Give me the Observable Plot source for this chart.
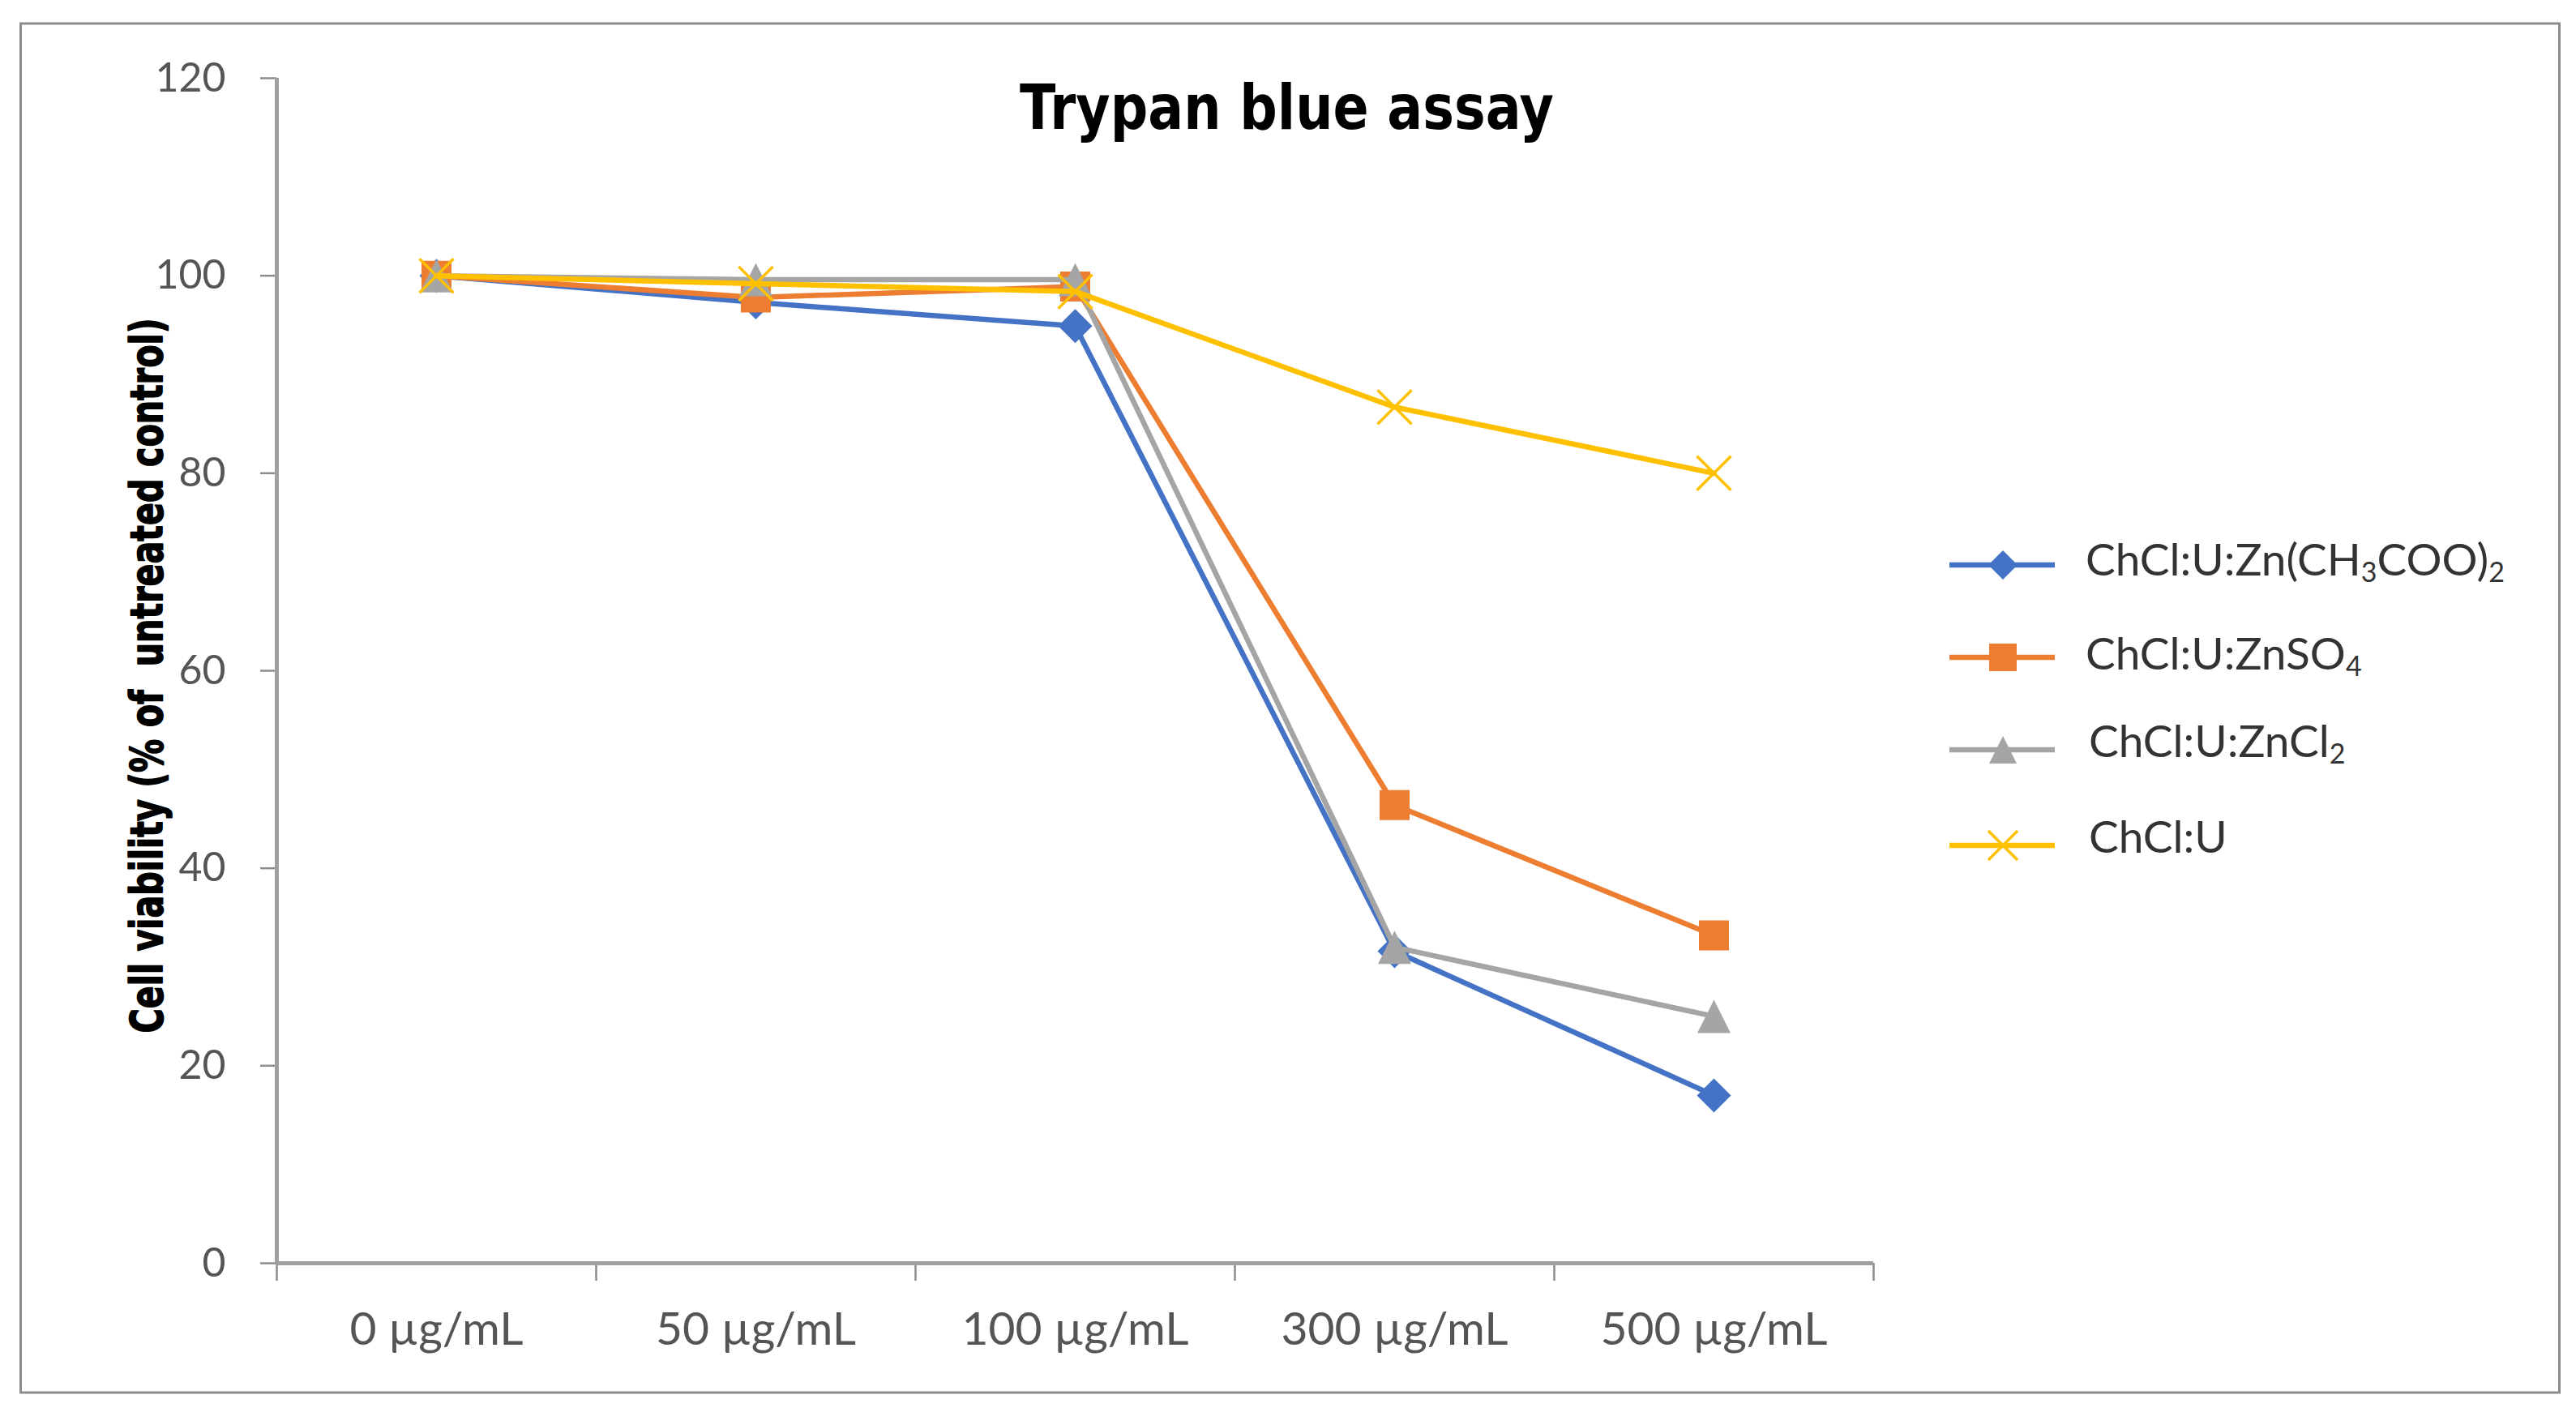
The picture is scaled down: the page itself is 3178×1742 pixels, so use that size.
<!DOCTYPE html>
<html>
<head>
<meta charset="utf-8">
<script src="https://cdn.jsdelivr.net/npm/d3@7"></script>
<script src="https://cdn.jsdelivr.net/npm/@observablehq/plot@0.6"></script>
<style>
  html, body { margin: 0; padding: 0; background: #fff; }
  #chart { position: relative; width: 3178px; height: 1742px; overflow: hidden; }
</style>
</head>
<body>
<div id="chart"></div>
<script>
// ---------- data ----------
const categories = ["0 µg/mL", "50 µg/mL", "100 µg/mL", "300 µg/mL", "500 µg/mL"];
const seriesNames = ["ChCl:U:Zn(CH3COO)2", "ChCl:U:ZnSO4", "ChCl:U:ZnCl2", "ChCl:U"];
const znAcetate  = [100, 97.3, 94.9, 31.6, 17.0];
const znSulfate  = [100, 97.8, 98.9, 46.4, 33.2];
const znChloride = [100, 99.6, 99.6, 32.0, 25.0];
const chclU      = [100, 99.2, 98.4, 86.7, 80.0];
const yTicks = [0, 20, 40, 60, 80, 100, 120];
const titleText = "Trypan blue assay";
const yLabelText = "Cell viability (% of  untreated control)";

// ---------- symbols ----------
const rOf = size => Math.sqrt(size / Math.PI);
const diamond = { draw(ctx, size) { const r = rOf(size); ctx.moveTo(0, -r); ctx.lineTo(r, 0); ctx.lineTo(0, r); ctx.lineTo(-r, 0); ctx.closePath(); } };
const square = { draw(ctx, size) { const r = rOf(size); ctx.rect(-r, -r, 2 * r, 2 * r); } };
const triangle = { draw(ctx, size) { const r = rOf(size); ctx.moveTo(0, -r); ctx.lineTo(r, r); ctx.lineTo(-r, r); ctx.closePath(); } };
const cross = { draw(ctx, size) { const r = rOf(size); ctx.moveTo(-r, -r); ctx.lineTo(r, r); ctx.moveTo(-r, r); ctx.lineTo(r, -r); } };

// ---------- styles ----------
const seriesValues = [znAcetate, znSulfate, znChloride, chclU];
const seriesStyle = [
  { color: "#4472C4", symbol: diamond, r: 21, legendR: 18, stroked: false },
  { color: "#ED7D31", symbol: square, r: 18.5, legendR: 17, stroked: false },
  { color: "#A5A5A5", symbol: triangle, r: 20.5, legendR: 17, stroked: false },
  { color: "#FFC000", symbol: cross, r: 21, legendR: 18, stroked: true }
];

const rows = seriesNames.flatMap((name, si) =>
  seriesValues[si].map((v, i) => ({ series: name, si, x: i, y: v }))
);

const seriesMarks = seriesNames.flatMap((name, si) => {
  const st = seriesStyle[si];
  const data = rows.filter(d => d.si === si);
  return [
    Plot.line(data, { x: "x", y: "y", stroke: st.color, strokeWidth: 6.5, strokeLinejoin: "round", strokeLinecap: "round" }),
    Plot.dot(data, st.stroked
      ? { x: "x", y: "y", symbol: st.symbol, r: st.r, fill: "none", stroke: st.color, strokeWidth: 3.5 }
      : { x: "x", y: "y", symbol: st.symbol, r: st.r, fill: st.color, stroke: "none" })
  ];
});

const boundaries = d3.range(-0.5, categories.length, 1);

const plot = Plot.plot({
  width: 3178,
  height: 1742,
  marginLeft: 341,
  marginRight: 867,
  marginTop: 96,
  marginBottom: 184,
  x: { domain: [-0.5, categories.length - 0.5], axis: null },
  y: { domain: [0, 120], axis: null },
  style: { fontFamily: "Lato, sans-serif", background: "white", overflow: "visible" },
  marks: [
    Plot.axisY({ ticks: yTicks, tickSize: 20, tickPadding: 43, fontSize: 50, fill: "#555", stroke: "#8c8c8c", strokeWidth: 2.5, label: null, tickFormat: d => String(d) }),
    Plot.axisX({ ticks: d3.range(categories.length), tickSize: 0, tickPadding: 60, fontSize: 57, fill: "#555", label: null, tickFormat: i => categories[i] }),
    Plot.axisX({ ticks: boundaries, tickSize: 22, stroke: "#8c8c8c", strokeWidth: 2.5, label: null, tickFormat: () => "" }),
    Plot.ruleX([-0.5], { stroke: "#a0a0a0", strokeWidth: 5 }),
    Plot.ruleY([0], { stroke: "#a0a0a0", strokeWidth: 5 }),
    ...seriesMarks,
    Plot.text([titleText], { text: d => d, frameAnchor: "top", textAnchor: "middle", lineAnchor: "top", dx: 261, dy: 8, fontSize: 77, fontWeight: "bold", fontFamily: "DejaVu Sans", fill: "#000" }),
    Plot.text([yLabelText], { text: d => d, frameAnchor: "left", textAnchor: "middle", lineAnchor: "top", rotate: -90, dx: -181, dy: 6, fontSize: 55, fontWeight: "bold", fontFamily: "DejaVu Sans", fill: "#000", stroke: "#000", strokeWidth: 1.6 })
  ]
});

const svg = d3.select(plot);
svg.selectAll("text").filter(function () { return this.textContent === titleText; })
  .attr("textLength", 659).attr("lengthAdjust", "spacingAndGlyphs");
svg.selectAll("text").filter(function () { return this.textContent === yLabelText; })
  .attr("textLength", 882).attr("lengthAdjust", "spacingAndGlyphs").style("white-space", "pre");

// outer border
svg.insert("rect", ":first-child")
  .attr("x", 25.5).attr("y", 29).attr("width", 3132).attr("height", 1689)
  .attr("fill", "white").attr("stroke", "#8c8c8c").attr("stroke-width", 3);

// legend
const legendRowY = [697, 811, 925, 1043];
const legendTextY = [710, 826, 934, 1052];
const legendTextX = [2573, 2573, 2577, 2577];
const lg = svg.append("g").attr("font-family", "Lato, sans-serif").attr("text-anchor", "start");
seriesNames.forEach((name, i) => {
  const st = seriesStyle[i];
  const yy = legendRowY[i];
  lg.append("line").attr("x1", 2405).attr("x2", 2535).attr("y1", yy).attr("y2", yy)
    .attr("stroke", st.color).attr("stroke-width", 6.5);
  const p = d3.path();
  st.symbol.draw(p, Math.PI * st.legendR * st.legendR);
  const path = lg.append("path").attr("transform", `translate(2471,${yy})`).attr("d", p.toString());
  if (st.stroked) path.attr("fill", "none").attr("stroke", st.color).attr("stroke-width", 3.5);
  else path.attr("fill", st.color);
  const t = lg.append("text").attr("x", legendTextX[i]).attr("y", legendTextY[i])
    .attr("font-size", 55).attr("fill", "#333").attr("text-anchor", "start");
  const parts = name.split(/(\d)/).filter(s => s.length);
  let shifted = false;
  parts.forEach(part => {
    const isSub = /^\d$/.test(part);
    const ts = t.append("tspan").text(part);
    if (isSub) { ts.attr("font-size", 34).attr("dy", shifted ? 0 : 8); shifted = true; }
    else { if (shifted) ts.attr("dy", -8); shifted = false; }
  });
});

document.getElementById("chart").appendChild(plot);
</script>
</body>
</html>
